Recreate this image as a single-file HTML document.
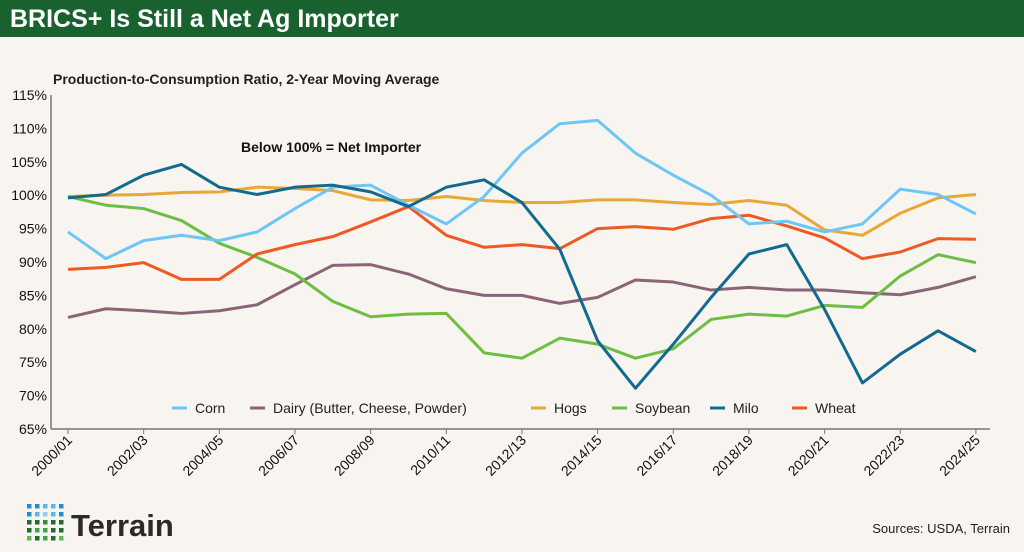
<!DOCTYPE html>
<html><head><meta charset="utf-8">
<style>
html,body{margin:0;padding:0;}
body{width:1024px;height:552px;background:#f8f4f0;font-family:"Liberation Sans",sans-serif;overflow:hidden;position:relative;}
.bar{position:absolute;left:0;top:0;width:1024px;height:37px;background:#19622f;}
.bar span{position:absolute;left:10px;top:5px;color:#fff;font-weight:bold;font-size:25px;}
</style></head><body>
<div class="bar"><span>BRICS+ Is Still a Net Ag Importer</span></div>
<svg id="c" width="1024" height="552" style="position:absolute;left:0;top:0" xmlns="http://www.w3.org/2000/svg" font-family="Liberation Sans, sans-serif">
<text x="53" y="84" font-size="14" font-weight="bold" fill="#222">Production-to-Consumption Ratio, 2-Year Moving Average</text>
<text x="241" y="152" font-size="14" font-weight="bold" fill="#111">Below 100% = Net Importer</text>
<line x1="51" y1="95" x2="51" y2="429" stroke="#777" stroke-width="1.5"/>
<line x1="51" y1="429" x2="990" y2="429" stroke="#777" stroke-width="1.5"/>
<text x="1010" y="533" font-size="13" fill="#222" text-anchor="end">Sources: USDA, Terrain</text>
<text x="71" y="536" font-size="31" font-weight="bold" fill="#2a2a28">Terrain</text>
</svg>
<script>
var s=document.getElementById('c'),NS='http://www.w3.org/2000/svg';
function el(t,a,txt){var e=document.createElementNS(NS,t);for(var k in a)e.setAttribute(k,a[k]);if(txt)e.textContent=txt;s.appendChild(e);return e;}
function X(i){return 68+i*37.83;}function Y(v){return 429-(v-65)*6.68;}
for(var v=65;v<=115;v+=5){el('text',{x:47,y:Y(v)+5,'font-size':14,'text-anchor':'end',fill:'#111'},v+'%');}
for(var i=0;i<25;i+=2){el('line',{x1:X(i),y1:429,x2:X(i),y2:434,stroke:'#777'});}
for(var i=0;i<25;i+=2){var y0=2000+i,l=y0+'/'+String((y0+1)%100).padStart(2,'0');var x=X(i)+5,y=441;
el('text',{x:x,y:y,'font-size':14,'text-anchor':'end',fill:'#111',transform:'rotate(-45 '+x+' '+y+')'},l);}
var D=[
['#6ec6f5',[94.5,90.5,93.2,94,93.2,94.5,98,101.2,101.5,98.5,95.7,99.8,106.3,110.7,111.2,106.3,103,100,95.7,96.1,94.5,95.7,100.9,100.1,97.2]],
['#8b6577',[81.7,83,82.7,82.3,82.7,83.6,86.6,89.5,89.6,88.2,86,85,85,83.8,84.7,87.3,87,85.8,86.2,85.8,85.8,85.4,85.1,86.2,87.8]],
['#e8a838',[99.8,100,100.1,100.4,100.5,101.2,101,100.7,99.3,99.2,99.8,99.2,98.9,98.9,99.3,99.3,98.9,98.6,99.2,98.5,94.8,94,97.3,99.6,100.1]],
['#6cbf43',[99.8,98.5,98,96.2,92.8,90.7,88.2,84.1,81.8,82.2,82.3,76.4,75.6,78.6,77.7,75.6,77,81.4,82.2,81.9,83.5,83.2,87.9,91.1,89.9]],
['#136a8f',[99.6,100.1,103,104.6,101.2,100.1,101.2,101.5,100.5,98.3,101.2,102.3,98.9,91.9,78.2,71.1,77.7,84.7,91.2,92.6,82.9,71.9,76.2,79.7,76.6]],
['#ee5a24',[88.9,89.2,89.9,87.4,87.4,91.2,92.6,93.8,96,98.3,94,92.2,92.6,92,95,95.3,94.9,96.5,97,95.4,93.6,90.5,91.5,93.5,93.4]]];
var order=[2,1,3,5,0,4];
order.forEach(function(k){var d=D[k];el('polyline',{points:d[1].map(function(v,i){return X(i)+','+Y(v)}).join(' '),fill:'none',stroke:d[0],'stroke-width':3,'stroke-linejoin':'round'});});
var L=[[172,'Corn',0],[250,'Dairy (Butter, Cheese, Powder)',1],[531,'Hogs',2],[612,'Soybean',3],[710,'Milo',4],[792,'Wheat',5]];
L.forEach(function(l){el('line',{x1:l[0],y1:408,x2:l[0]+15,y2:408,stroke:D[l[2]][0],'stroke-width':3});el('text',{x:l[0]+23,y:413,'font-size':14,fill:'#222'},l[1]);});
var cols=[['#1e90d0','#1e90d0','#5bb8ec','#5bb8ec','#1e90d0'],['#1e90d0','#5bb8ec','#8fd0f4','#5bb8ec','#1e90d0'],['#1f6b35','#1f6b35','#2f8f3f','#1f6b35','#1f6b35'],['#1f6b35','#3aa84a','#3aa84a','#1f6b35','#1f6b35'],['#5cc04a','#1f6b35','#3aa84a','#1f6b35','#5cc04a']];
for(var r=0;r<5;r++)for(var c=0;c<5;c++)el('rect',{x:27+c*8,y:504+r*8,width:4.5,height:4.5,fill:cols[r][c]});
</script>
</body></html>
